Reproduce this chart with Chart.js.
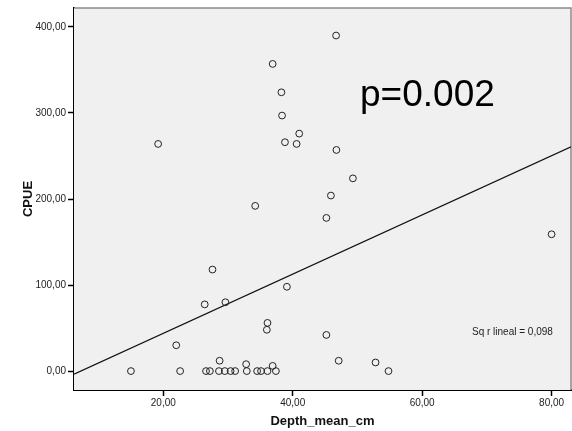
<!DOCTYPE html>
<html>
<head>
<meta charset="utf-8">
<script src="https://cdn.jsdelivr.net/npm/chart.js@4"></script>
<style>
  body { margin: 0; background: #fff; }
  #wrap { width: 572px; height: 431px; }
</style>
</head>
<body>
<div id="wrap"><canvas id="scatter" width="572" height="431"></canvas></div>
<script>
// values
const depth = [19.2, 46.7, 36.9, 38.25, 38.35, 41.0, 38.8, 40.6, 46.75, 49.3, 45.9, 34.2, 45.2, 80.0,
               27.6, 39.1, 29.6, 26.4, 36.1, 36.0, 45.2, 22.0, 28.7, 47.1, 52.8, 32.8, 36.9,
               15.0, 22.6, 26.6, 27.2, 28.6, 29.5, 30.4, 31.1, 32.9, 34.5, 35.1, 36.1, 37.4, 54.8];
const cpue  = [264, 390, 357, 324, 297, 276, 266, 264, 257, 224, 204, 192, 178, 159,
               118, 98, 80, 77.5, 56, 48, 42, 30, 12, 12, 10, 8, 6,
               0, 0, 0, 0, 0, 0, 0, 0, 0, 0, 0, 0, 0, 0];

// fit line ends (clipped at the plot edges)
const fitX = [6.2, 83.0];
const fitY = [-3.5, 260.6];

const xTicks = [20, 40, 60, 80];
const yTicks = [0, 100, 200, 300, 400];

const pLabel = "p=0.002";
const r2Label = "Sq r lineal = 0,098";

const fmt = v => v.toFixed(2).replace(".", ",");

const points = depth.map((d, i) => ({ x: d, y: cpue[i] }));
const fit = fitX.map((d, i) => ({ x: d, y: fitY[i] }));

const plotBg = {
    id: "plotBg",
    beforeDatasetsDraw(chart) {
        const { ctx, chartArea: a } = chart;
        ctx.save();
        ctx.fillStyle = "#f0f0f0";
        ctx.fillRect(a.left, a.top, a.right - a.left, a.bottom - a.top);
        ctx.strokeStyle = "#8a8a8a";
        ctx.lineWidth = 1.5;
        ctx.beginPath();
        ctx.moveTo(a.left, a.top);
        ctx.lineTo(a.right, a.top);
        ctx.lineTo(a.right, a.bottom);
        ctx.stroke();
        ctx.restore();
    },
    afterDraw(chart) {
        const { ctx, scales: { x, y } } = chart;
        ctx.save();
        ctx.fillStyle = "#000";
        ctx.font = "37px 'Liberation Sans', Arial, sans-serif";
        ctx.textBaseline = "alphabetic";
        ctx.fillText(pLabel, x.getPixelForValue(50.4), y.getPixelForValue(308));
        ctx.fillStyle = "#222";
        ctx.font = "10px 'Liberation Sans', Arial, sans-serif";
        ctx.textBaseline = "middle";
        ctx.fillText(r2Label, x.getPixelForValue(67.7), y.getPixelForValue(45.5));
        ctx.restore();
    }
};

new Chart(document.getElementById("scatter"), {
    type: "scatter",
    data: {
        datasets: [
            {
                label: "CPUE",
                data: points,
                pointStyle: "circle",
                pointRadius: 3.4,
                pointBorderWidth: 1,
                borderColor: "#222",
                backgroundColor: "rgba(0,0,0,0)"
            },
            {
                type: "line",
                label: "fit",
                data: fit,
                borderColor: "#111",
                borderWidth: 1.2,
                pointRadius: 0,
                fill: false
            }
        ]
    },
    options: {
        responsive: false,
        animation: false,
        devicePixelRatio: 1,
        layout: { autoPadding: false, padding: { top: 8, right: 1, left: 0, bottom: 0 } },
        plugins: { legend: { display: false }, tooltip: { enabled: false } },
        scales: {
            x: {
                type: "linear",
                min: 6.2,
                max: 83.0,
                afterFit: s => { s.height = 41; s.paddingLeft = 0; s.paddingRight = 0; },
                afterBuildTicks: s => { s.ticks = xTicks.map(v => ({ value: v })); },
                grid: { drawOnChartArea: false, drawTicks: true, tickLength: 6, tickColor: "#000", tickWidth: 1.5 },
                border: { display: true, color: "#000", width: 2 },
                ticks: {
                    callback: v => fmt(v),
                    color: "#222",
                    font: { family: "'Liberation Sans', Arial, sans-serif", size: 10 },
                    padding: 1,
                    maxRotation: 0
                },
                title: {
                    display: true,
                    text: "Depth_mean_cm",
                    color: "#111",
                    font: { family: "'Liberation Sans', Arial, sans-serif", size: 13, weight: "bold" },
                    padding: { top: 0, bottom: 2 }
                }
            },
            y: {
                type: "linear",
                min: -22,
                max: 422,
                afterFit: s => { s.width = 74; s.paddingTop = 0; s.paddingBottom = 0; },
                afterBuildTicks: s => { s.ticks = yTicks.map(v => ({ value: v })); },
                grid: { drawOnChartArea: false, drawTicks: true, tickLength: 6, tickColor: "#000", tickWidth: 1.5 },
                border: { display: true, color: "#000", width: 2 },
                ticks: {
                    callback: v => fmt(v),
                    color: "#222",
                    font: { family: "'Liberation Sans', Arial, sans-serif", size: 10 },
                    padding: 2
                },
                title: {
                    display: true,
                    text: "CPUE",
                    color: "#111",
                    font: { family: "'Liberation Sans', Arial, sans-serif", size: 13, weight: "bold" },
                    padding: { top: 21, bottom: 0 }
                }
            }
        }
    },
    plugins: [plotBg]
});
</script>
</body>
</html>
